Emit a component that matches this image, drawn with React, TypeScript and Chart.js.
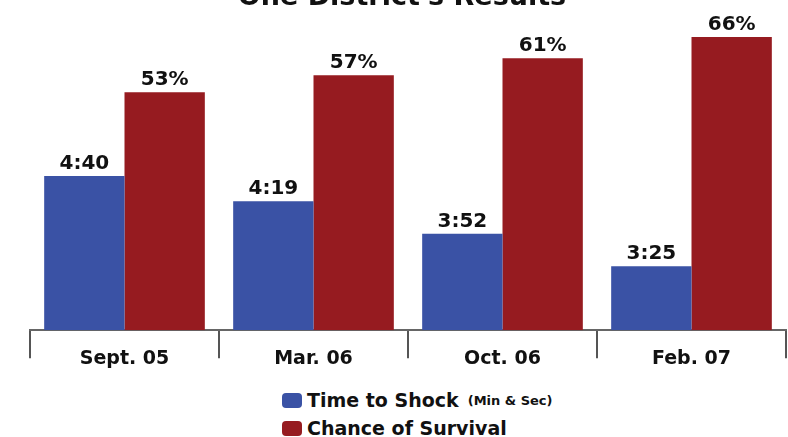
import React, { useEffect, useRef } from "react";
import { Chart, registerables } from "chart.js";

Chart.register(...registerables);

const titleText = "One District's Results";
const categories = ["Sept. 05", "Mar. 06", "Oct. 06", "Feb. 07"];
// Time to shock, in seconds (4:40, 4:19, 3:52, 3:25)
const timeToShockSeconds = [280, 259, 232, 205];
// Chance of survival, percent
const survivalPercent = [53, 57, 61, 66];
const seriesNames = ["Time to Shock", "Chance of Survival"];
const seriesNotes = ["(Min & Sec)", ""];
const seriesColors = ["#3A52A5", "#961B20"];

const FONT = "'DejaVu Sans', Verdana, sans-serif";

function fmtTime(s: number) {
  const m = Math.floor(s / 60);
  const r = s % 60;
  return `${m}:${r < 10 ? "0" : ""}${r}`;
}

const valueLabelPlugin = {
  id: "valueLabels",
  afterDatasetsDraw(chart: any) {
    const ctx = chart.ctx;
    ctx.save();
    ctx.font = `bold 20px ${FONT}`;
    ctx.fillStyle = "#111";
    ctx.textAlign = "center";
    ctx.textBaseline = "alphabetic";
    chart.data.datasets.forEach((ds: any, di: number) => {
      const meta = chart.getDatasetMeta(di);
      meta.data.forEach((el: any, i: number) => {
        const v = ds.data[i];
        const txt = di === 0 ? fmtTime(v) : `${v}%`;
        ctx.fillText(txt, el.x, el.y - 7);
      });
    });
    ctx.restore();
  },
};

export default function App() {
  const ref = useRef<HTMLCanvasElement | null>(null);

  useEffect(() => {
    if (!ref.current) return;
    const chart = new Chart(ref.current, {
      type: "bar",
      data: {
        labels: categories,
        datasets: [
          {
            label: seriesNames[0],
            data: timeToShockSeconds,
            backgroundColor: seriesColors[0],
            yAxisID: "yTime",
            base: 152,
            categoryPercentage: 0.85,
            barPercentage: 1.0,
          },
          {
            label: seriesNames[1],
            data: survivalPercent,
            backgroundColor: seriesColors[1],
            yAxisID: "yPct",
            base: -3,
            categoryPercentage: 0.85,
            barPercentage: 1.0,
          },
        ],
      },
      options: {
        animation: false,
        responsive: false,
        layout: { padding: { left: 18, right: 2, top: 0, bottom: 0 } },
        plugins: {
          legend: { display: false },
          tooltip: { enabled: false },
          title: {
            display: true,
            text: titleText,
            color: "#111",
            font: { family: FONT, size: 27, weight: "bold" },
            padding: { top: 1.3, bottom: 6.3 },
          },
        },
        scales: {
          x: {
            offset: true,
            grid: {
              offset: true,
              drawOnChartArea: false,
              drawTicks: true,
              tickLength: 28,
              color: "#555",
              lineWidth: 2,
            },
            border: { display: true, color: "#666", width: 2 },
            ticks: {
              color: "#111",
              padding: -11,
              font: { family: FONT, size: 19, weight: "bold" },
            },
            afterFit: (axis: any) => {
              axis.height = axis.height + 14;
            },
          },
          yTime: {
            display: false,
            min: 152,
            max: 409.5,
          },
          yPct: {
            display: true,
            position: "left",
            min: -3,
            max: 70,
            grid: { display: false },
            border: { display: false },
            ticks: { display: false },
            afterFit: (axis: any) => {
              axis.width = 12;
            },
          },
        },
      },
      plugins: [valueLabelPlugin],
    });
    return () => chart.destroy();
  }, []);

  return (
    <div
      style={{
        position: "fixed",
        left: 0,
        top: 0,
        width: 788,
        height: 437,
        overflow: "hidden",
        background: "#fff",
      }}
    >
      <canvas
        ref={ref}
        width={788}
        height={393}
        style={{ position: "absolute", left: 0, top: -20, width: 788, height: 393 }}
      />
      <div style={{ position: "absolute", left: 282, top: 386, fontFamily: FONT }}>
        {seriesNames.map((name, i) => (
          <div
            key={name}
            style={{ display: "flex", alignItems: "center", height: 28, whiteSpace: "nowrap" }}
          >
            <span
              style={{
                display: "inline-block",
                width: 20,
                height: 15,
                borderRadius: 4,
                background: seriesColors[i],
                marginRight: 5,
              }}
            />
            <span style={{ fontWeight: "bold", fontSize: 19, color: "#111" }}>{name}</span>
            {seriesNotes[i] ? (
              <span style={{ fontWeight: "bold", fontSize: 13, color: "#111", marginLeft: 9 }}>
                {seriesNotes[i]}
              </span>
            ) : null}
          </div>
        ))}
      </div>
    </div>
  );
}
